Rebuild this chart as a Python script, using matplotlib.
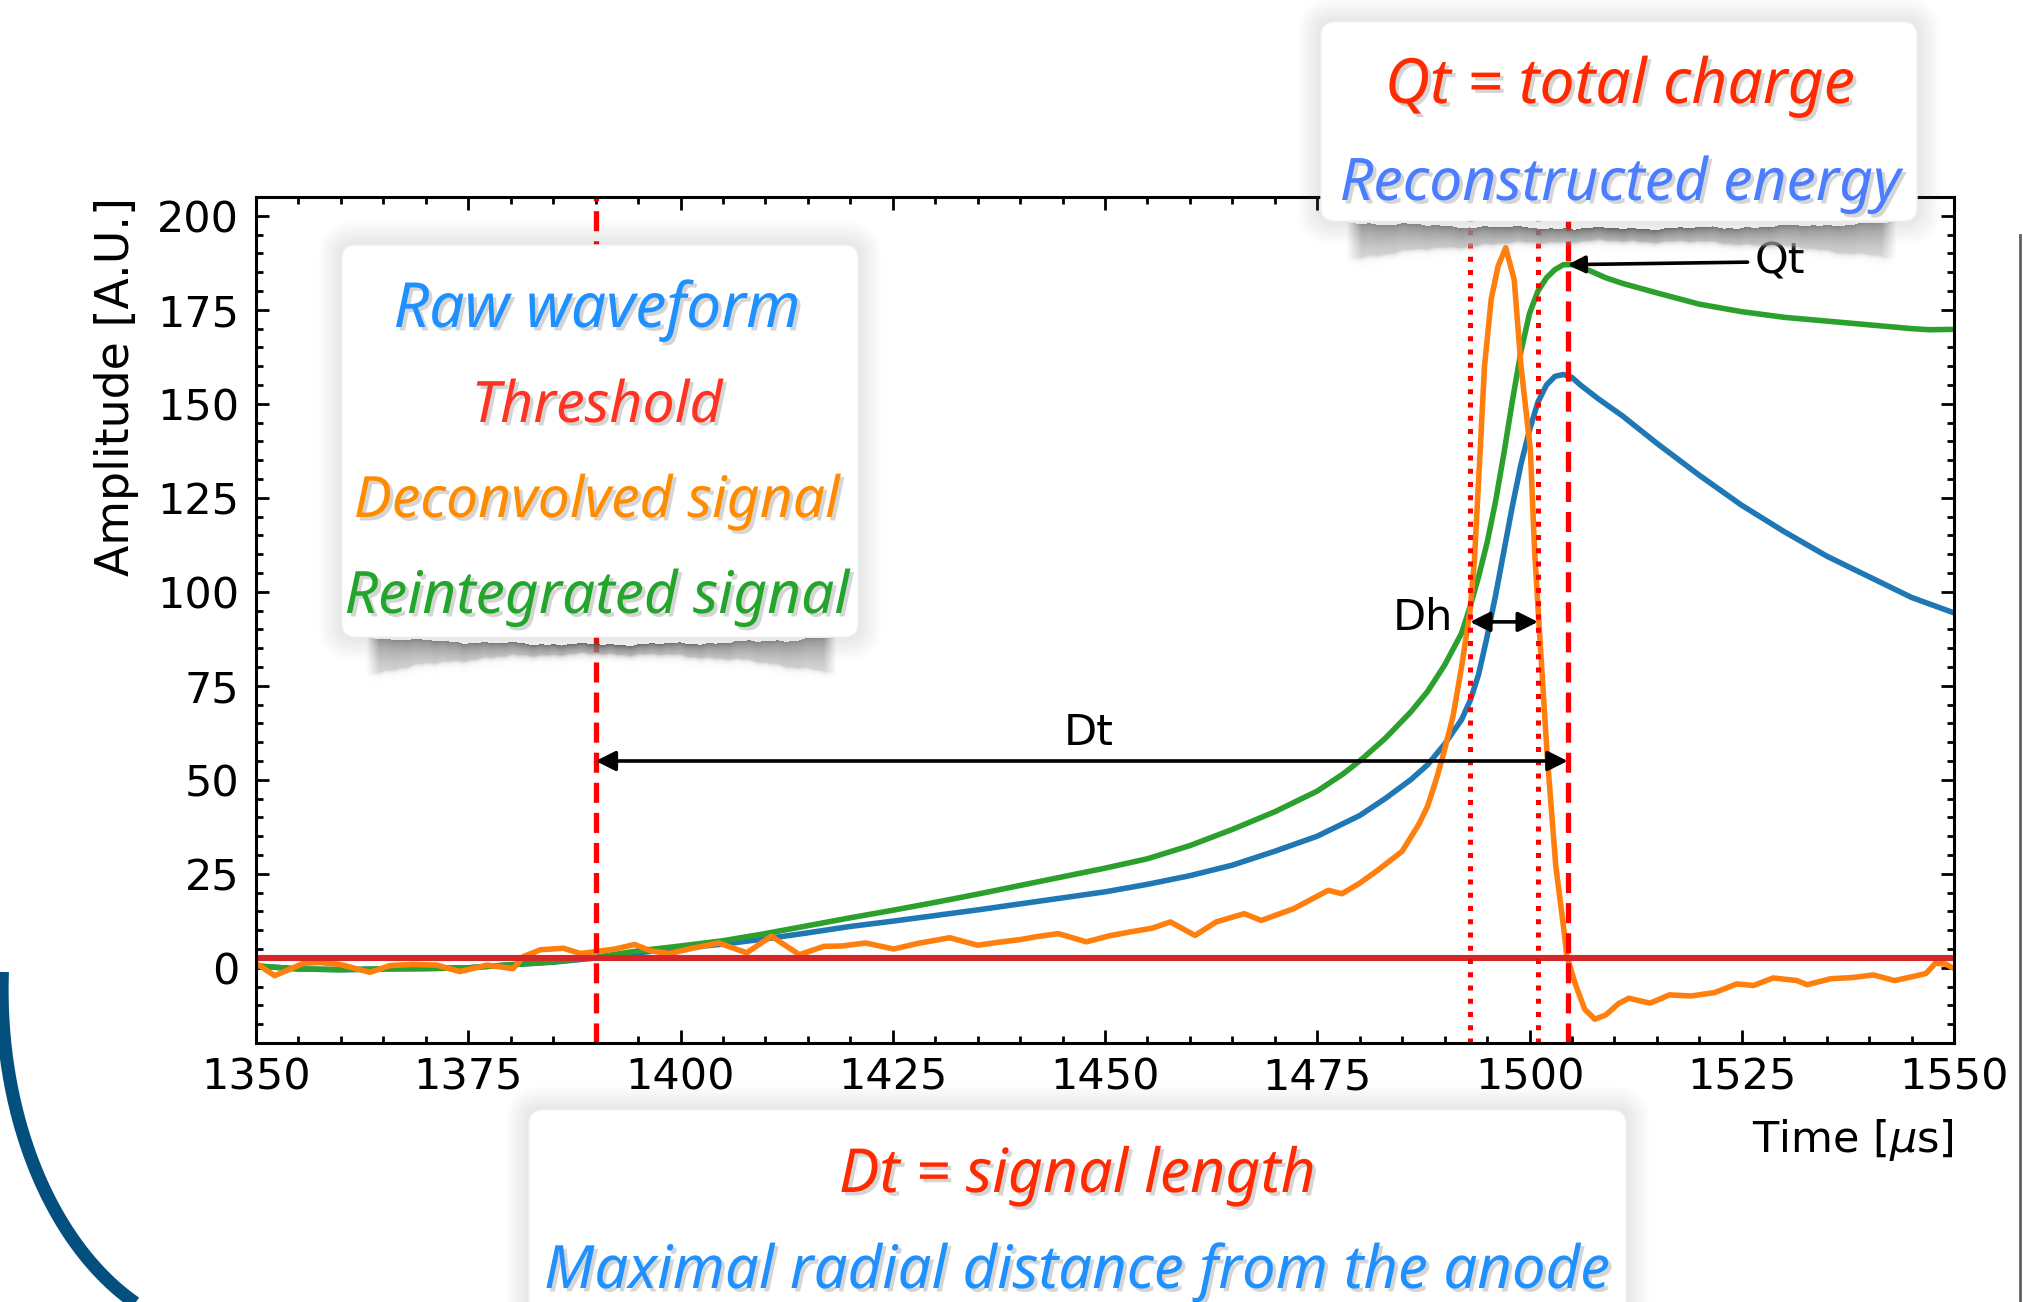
import numpy as np
import matplotlib
matplotlib.use("Agg")
import matplotlib.pyplot as plt
import matplotlib.patheffects as pe
from matplotlib.patches import FancyBboxPatch
from matplotlib.ticker import MultipleLocator

# raw waveform (blue)
raw_t = [1350, 1355, 1360, 1365, 1370, 1375, 1380, 1385, 1390, 1395, 1400, 1405,
         1410, 1415, 1420, 1425, 1430, 1435, 1440, 1445, 1450, 1455, 1460, 1465,
         1470, 1475, 1480, 1483, 1486, 1488, 1490, 1492, 1493, 1494, 1495, 1496, 1497,
         1498, 1499, 1500, 1501, 1502, 1503, 1504, 1505, 1506, 1508, 1511, 1515,
         1520, 1525, 1530, 1535, 1540, 1545, 1550]
raw_a = [0.5, -0.3, -0.5, -0.3, -0.2, 0.0, 0.8, 1.5, 2.6, 4.0, 5.2, 6.3,
         7.7, 9.3, 11.0, 12.4, 13.9, 15.4, 17.0, 18.6, 20.2, 22.2, 24.5, 27.3,
         31.0, 35.0, 40.5, 45.0, 50.0, 54.0, 59.5, 66.0, 71.0, 78.0, 88.0, 99.0, 111.0,
         123.0, 134.0, 143.0, 150.5, 155.0, 157.3, 157.8, 157.0, 155.0, 151.5, 146.7, 139.5,
         131.0, 123.0, 116.0, 109.5, 104.0, 98.5, 94.4]

# reintegrated signal (green)
reint_t = [1350, 1355, 1360, 1365, 1370, 1375, 1380, 1385, 1390, 1395, 1400, 1405,
           1410, 1415, 1420, 1425, 1430, 1435, 1440, 1445, 1450, 1455, 1460, 1465,
           1470, 1475, 1478, 1480, 1483, 1486, 1488, 1490, 1492, 1493, 1494, 1495,
           1496, 1497, 1498, 1499, 1500, 1501, 1502, 1503, 1504, 1505, 1507, 1509,
           1511, 1515, 1520, 1525, 1530, 1535, 1540, 1545, 1547, 1550]
reint_a = [0.5, -0.3, -0.5, -0.3, -0.2, 0.0, 0.8, 1.6, 2.8, 4.5, 5.8, 7.2,
           9.1, 11.2, 13.3, 15.3, 17.4, 19.6, 21.9, 24.2, 26.5, 29.0, 32.5, 36.8,
           41.5, 47.0, 51.5, 55.0, 61.0, 68.0, 73.5, 80.5, 89.0, 96.0, 104.0, 113.0,
           124.0, 137.0, 151.0, 164.0, 174.0, 180.0, 183.5, 185.7, 187.0, 187.0, 185.5, 183.5,
           182.0, 179.5, 176.5, 174.5, 173.0, 172.0, 171.0, 170.0, 169.7, 169.8]

# deconvolved signal (orange)
decon_t = [1350, 1352.2, 1355.6, 1357.5, 1359.9, 1363.4, 1365.8, 1368.5, 1371.3, 1374,
           1377.2, 1380.3, 1381.5, 1383.5, 1386.2, 1388.2, 1390, 1392.3, 1394.6, 1396.5,
           1398.7, 1401, 1404.5, 1407.8, 1410.7, 1414, 1416.9, 1419, 1421.8, 1425.1,
           1428, 1431.7, 1435, 1437.5, 1440, 1442, 1444.5, 1447.8, 1450.5, 1453.1,
           1455.5, 1457.7, 1460.6, 1463.1, 1466.4, 1468.4, 1472.2, 1476.3, 1477.9, 1480,
           1482.1, 1485, 1487, 1488, 1489.1, 1490, 1491, 1492, 1493, 1493.5,
           1494.2, 1494.7, 1495.5, 1496.3, 1497.2, 1498.2, 1499, 1500.1, 1500.6, 1501.1,
           1502.1, 1503.1, 1504.1, 1504.4, 1505.5, 1506.5, 1507.7, 1509, 1510.5, 1511.7,
           1514.2, 1516.5, 1519, 1521.8, 1524.4, 1526.4, 1528.7, 1531.5, 1532.7, 1535.5,
           1538, 1540.5, 1543, 1545.6, 1546.7, 1547.8, 1549, 1550]
decon_a = [1.2, -2.1, 1.2, 1.4, 0.9, -1.2, 0.6, 0.9, 0.7, -1.0,
           0.7, -0.2, 3.0, 4.8, 5.2, 3.8, 4.3, 5.0, 6.2, 4.5,
           3.8, 5.0, 6.6, 4.0, 8.4, 3.5, 5.7, 5.8, 6.6, 5.0,
           6.5, 8.0, 6.0, 6.8, 7.5, 8.3, 9.1, 6.9, 8.5, 9.6,
           10.5, 12.2, 8.6, 12.2, 14.4, 12.6, 15.7, 20.6, 19.7, 22.5,
           25.9, 31.0, 38.3, 43.0, 50.7, 58.0, 67.0, 80.0, 95.0, 108.0,
           138.0, 160.0, 178.0, 186.6, 191.5, 183.0, 160.0, 137.8, 111.0, 92.0,
           56.0, 27.0, 9.2, 3.0, -5.0, -11.0, -13.7, -12.5, -9.5, -8.1,
           -9.4, -7.2, -7.5, -6.6, -4.3, -4.7, -2.7, -3.4, -4.5, -2.9,
           -2.6, -1.9, -3.4, -2.1, -1.5, 1.2, 1.0, -0.2]

threshold = 2.6
t_start = 1390.0
t_end = 1504.5
fwhm_left = 1493.0
fwhm_right = 1501.0
qt_value = 187.0
dt_arrow_y = 55.0
dh_arrow_y = 92.0

legend_lines = ["Raw waveform", "Threshold", "Deconvolved signal", "Reintegrated signal"]
legend_colors = ["#1e90ff", "#ff3322", "#ff8c00", "#22a52a"]
top_lines = ["Qt = total charge", "Reconstructed energy"]
top_colors = ["#ff2a00", "#4a7dff"]
bottom_lines = ["Dt = signal length", "Maximal radial distance from the anode"]
bottom_colors = ["#ff2a00", "#1e90ff"]

HAND = ['Noto Sans', 'DejaVu Sans']
W, H = 2023, 1302

fig = plt.figure(figsize=(W / 100, H / 100), dpi=100)
ax = fig.add_axes([256 / W, 1 - 1043 / H, (1954 - 256) / W, (1043 - 197) / H], zorder=1)

ax.plot(raw_t, raw_a, color='tab:blue', lw=4.0, solid_joinstyle='round')
ax.plot(reint_t, reint_a, color='tab:green', lw=4.0, solid_joinstyle='round')
ax.plot(decon_t, decon_a, color='tab:orange', lw=4.0, solid_joinstyle='round')
ax.axhline(threshold, color='tab:red', lw=4.4)

ax.axvline(t_start, color='red', lw=3.8, ls=(0, (3.8, 1.9)))
ax.axvline(t_end, color='red', lw=3.8, ls=(0, (3.8, 1.9)))
ax.axvline(fwhm_left, color='red', lw=3.6, ls=':')
ax.axvline(fwhm_right, color='red', lw=3.6, ls=':')

arrow_kw = dict(arrowstyle='<|-|>', color='k', lw=2.6, mutation_scale=30, shrinkA=0, shrinkB=0)
ax.annotate('', xy=(t_start, dt_arrow_y), xytext=(t_end, dt_arrow_y), arrowprops=arrow_kw)
ax.text((t_start + t_end) / 2 + 0.8, dt_arrow_y + 7.5, 'Dt', ha='center', va='center', fontsize=31)
ax.annotate('', xy=(fwhm_left, dh_arrow_y), xytext=(fwhm_right, dh_arrow_y), arrowprops=arrow_kw)
ax.text(fwhm_left - 2.0, dh_arrow_y + 1.0, 'Dh', ha='right', va='center', fontsize=31)
ax.annotate('Qt', xy=(t_end, qt_value), xytext=(1526.5, qt_value + 0.8), ha='left', va='center',
            fontsize=31,
            arrowprops=dict(arrowstyle='-|>', color='k', lw=2.6, mutation_scale=26,
                            shrinkA=3, shrinkB=0))

ax.set_xlim(1350, 1550)
ax.set_ylim(-20, 205)
ax.xaxis.set_major_locator(MultipleLocator(25))
ax.xaxis.set_minor_locator(MultipleLocator(5))
ax.yaxis.set_major_locator(MultipleLocator(25))
ax.yaxis.set_minor_locator(MultipleLocator(5))
ax.tick_params(which='both', direction='in', top=True, right=True, width=2.0, labelsize=31)
ax.tick_params(which='major', length=9.5)
ax.tick_params(which='minor', length=5)
ax.tick_params(axis='x', which='both', pad=10)
ax.tick_params(axis='y', which='both', pad=12)
for sp in ax.spines.values():
    sp.set_linewidth(2.2)
ax.set_xlabel('Time [$\\mu$s]', loc='right', fontsize=31, labelpad=13)
ax.set_ylabel('Amplitude [A.U.]', loc='top', fontsize=33, labelpad=13)

# overlay in pixel coordinates for the slide decorations
ov = fig.add_axes([0, 0, 1, 1], zorder=5)
ov.patch.set_alpha(0)
ov.axis('off')


def curl_shadow(x0, x1, y_top, sag, thick_mid, thick_side):
    w = int(x1 - x0)
    h = int(sag + thick_side + 16)
    u = np.linspace(0, 1, w)
    s = np.abs(2 * u - 1)
    ripple = 0.9 * np.sin(u * 37.0) + 0.6 * np.sin(u * 91.0 + 1.0) + 0.4 * np.sin(u * 211.0 + 2.0)
    top = sag * (1 - s ** 2) + ripple
    thick = thick_mid + (thick_side - thick_mid) * s ** 2.2
    rows = np.arange(h)[:, None]
    d = (rows - top[None, :]) / thick[None, :]
    gray = 0.30 + 0.2 * s[None, :] + 0.25 * np.sqrt(np.clip(d, 0, 1))
    alpha = np.where((d >= 0) & (d <= 1), 0.9 - 0.25 * d, 0.0)
    alpha = np.where(d > 1, 0.65 * np.exp(-(d - 1) * thick[None, :] / 2.5), alpha)
    alpha *= np.clip((1 - s[None, :]) * 18, 0, 1)
    img = np.zeros((h, w, 4))
    img[..., 0] = gray
    img[..., 1] = gray
    img[..., 2] = gray
    img[..., 3] = np.clip(alpha, 0, 1)
    ov.imshow(img, extent=(x0, x1, y_top + h, y_top), origin='upper',
              aspect='auto', interpolation='bilinear', zorder=2)


def paper_box(x0, y0, x1, y1):
    for i in range(12):
        g = 2 + 2 * i
        ov.add_patch(FancyBboxPatch((x0 - g, y0 - g), x1 - x0 + 2 * g, y1 - y0 + 2 * g,
                                    boxstyle=f"round,pad=0,rounding_size={14 + g}",
                                    fc='#808080', ec='none', alpha=0.016, zorder=1))
    ov.add_patch(FancyBboxPatch((x0, y0), x1 - x0, y1 - y0,
                                boxstyle="round,pad=0,rounding_size=14",
                                fc='white', ec='#f2f2f2', lw=1, zorder=3))


paper_box(342, 245, 858, 637)
curl_shadow(366, 837, 637, 7, 9, 36)
paper_box(1321, 22, 1917, 221)
curl_shadow(1346, 1897, 222, 6, 12, 36)
paper_box(529, 1110, 1626, 1340)

renderer = fig.canvas.get_renderer()
shadow = [pe.withSimplePatchShadow(offset=(2.5, -2.5), shadow_rgbFace='#777777', alpha=0.3)]


def hand_text(x, y, s, color, width):
    t = ov.text(x, y, s, color=color, fontsize=40, ha='center', va='baseline',
                family=HAND, style='italic', fontstretch='extra-condensed',
                zorder=6, path_effects=shadow)
    t.set_fontsize(40 * width / t.get_window_extent(renderer).width)
    return t


for s, c, yb, wd in zip(legend_lines, legend_colors, [327, 422, 517, 613], [407, 251, 486, 505]):
    hand_text(597, yb, s, c, wd)
for s, c, yb, wd in zip(top_lines, top_colors, [103, 200], [470, 561]):
    hand_text(1620, yb, s, c, wd)
for s, c, yb, wd in zip(bottom_lines, bottom_colors, [1192, 1288], [477, 1066]):
    hand_text(1077, yb, s, c, wd)

# slide frame pieces at the edges (elliptic corner of the slide border)
phi = np.linspace(np.radians(-3), np.radians(75), 200)
ov.plot(232 - 230 * np.cos(phi), 990 + 345 * np.sin(phi), color='#03507f', lw=9.5,
        solid_capstyle='butt', zorder=1)
ov.plot([2020.5, 2020.5], [235, 1302], color='#2a2a2a', lw=2.0, alpha=0.75, zorder=1)

ov.set_xlim(0, W)
ov.set_ylim(H, 0)

fig.savefig('out.png', dpi=100, facecolor='white')
